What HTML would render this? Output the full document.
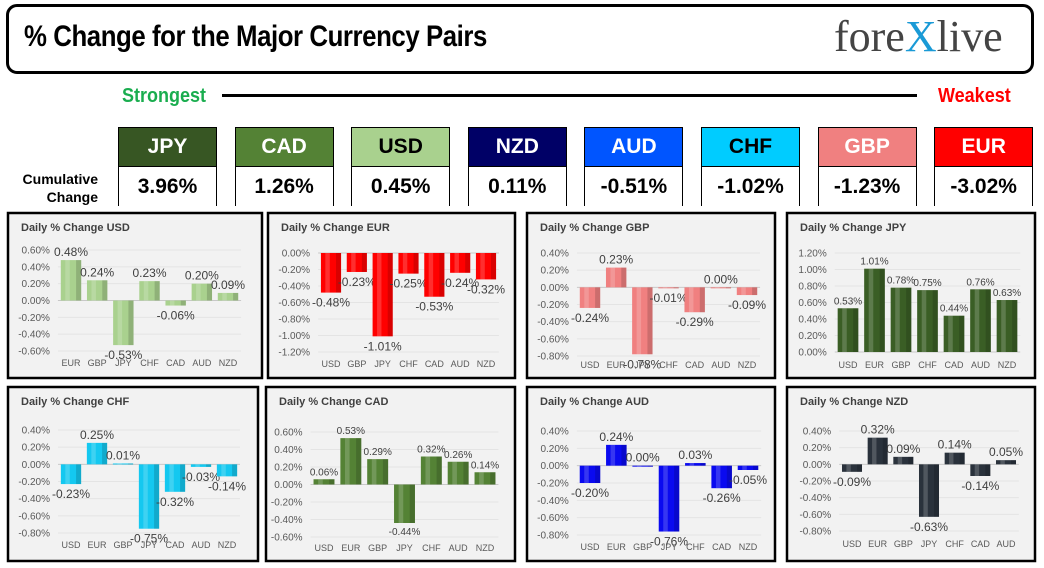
<!DOCTYPE html>
<html><head><meta charset="utf-8">
<style>
body{margin:0;width:1044px;height:568px;background:#fff;position:relative;overflow:hidden;font-family:"Liberation Sans",sans-serif}
.abs{position:absolute}
.imp{font-family:"Liberation Sans Narrow","Liberation Sans",sans-serif;font-weight:bold}
.box{position:absolute;width:99px;top:127px;height:79px;border:1px solid #000;box-sizing:border-box}
.box .h{height:38px;line-height:38px;text-align:center;font-size:21px;border-bottom:1px solid #000}
.box .v{height:40px;line-height:40px;text-align:center;font-size:21px;color:#000;background:#fff}
</style></head><body>
<div class="abs" style="left:6px;top:4px;width:1028px;height:70px;border:3px solid #000;border-radius:11px;box-sizing:border-box"></div>
<div class="abs imp" style="left:24px;top:20px;font-size:30px;letter-spacing:-0.5px;transform:scaleX(0.86);transform-origin:left;white-space:nowrap">% Change for the Major Currency Pairs</div>
<div class="abs" style="left:834px;top:11px;font-family:'Liberation Serif',serif;font-size:44px;color:#444">fore<span style="color:#1a9ad6">X</span>live</div>
<div class="abs imp" style="left:122px;top:85px;font-size:20px;color:#1aad4f;transform:scaleX(0.9);transform-origin:left">Strongest</div>
<div class="abs" style="left:222px;top:94px;width:695px;height:3px;background:#000"></div>
<div class="abs imp" style="left:938px;top:85px;font-size:20px;color:#ff0000;transform:scaleX(0.9);transform-origin:left">Weakest</div>
<div class="abs imp" style="right:946px;top:170px;font-size:14px;text-align:right;line-height:18px">Cumulative<br>Change</div>
<div id="boxes"></div>
<svg id="charts" width="1044" height="568" style="position:absolute;left:0;top:0"></svg>
<script>
const boxNames=["JPY","CAD","USD","NZD","AUD","CHF","GBP","EUR"];
const boxValues=["3.96%","1.26%","0.45%","0.11%","-0.51%","-1.02%","-1.23%","-3.02%"];
const boxBg=["#375623","#548235","#a9d18e","#000066","#0055ff","#00ccff","#f08080","#ff0000"];
const boxFg=["#fff","#fff","#000","#fff","#fff","#000","#fff","#fff"];
const bc=document.getElementById('boxes');
boxNames.forEach((n,i)=>{
  const d=document.createElement('div');
  d.className='box imp';
  
  
  d.style.left=(118+i*116.6)+'px';
  d.innerHTML='<div class="h" style="background:'+boxBg[i]+';color:'+boxFg[i]+'">'+n+'</div><div class="v">'+boxValues[i]+'</div>';
  bc.appendChild(d);
});

const usdCats=["EUR","GBP","JPY","CHF","CAD","AUD","NZD"];
const usdVals=[0.48,0.24,-0.53,0.23,-0.06,0.20,0.09];
const usdTicks=[0.6,0.4,0.2,0,-0.2,-0.4,-0.6];
const eurCats=["USD","GBP","JPY","CHF","CAD","AUD","NZD"];
const eurVals=[-0.48,-0.23,-1.01,-0.25,-0.53,-0.24,-0.32];
const eurTicks=[0,-0.2,-0.4,-0.6,-0.8,-1.0,-1.2];
const gbpCats=["USD","EUR","JPY","CHF","CAD","AUD","NZD"];
const gbpVals=[-0.24,0.23,-0.78,-0.01,-0.29,0.00,-0.09];
const gbpTicks=[0.4,0.2,0,-0.2,-0.4,-0.6,-0.8];
const jpyCats=["USD","EUR","GBP","CHF","CAD","AUD","NZD"];
const jpyVals=[0.53,1.01,0.78,0.75,0.44,0.76,0.63];
const jpyTicks=[1.2,1.0,0.8,0.6,0.4,0.2,0];
const chfCats=["USD","EUR","GBP","JPY","CAD","AUD","NZD"];
const chfVals=[-0.23,0.25,0.01,-0.75,-0.32,-0.03,-0.14];
const chfTicks=[0.4,0.2,0,-0.2,-0.4,-0.6,-0.8];
const cadCats=["USD","EUR","GBP","JPY","CHF","AUD","NZD"];
const cadVals=[0.06,0.53,0.29,-0.44,0.32,0.26,0.14];
const cadTicks=[0.6,0.4,0.2,0,-0.2,-0.4,-0.6];
const audCats=["USD","EUR","GBP","JPY","CHF","CAD","NZD"];
const audVals=[-0.20,0.24,0.00,-0.76,0.03,-0.26,-0.05];
const audTicks=[0.4,0.2,0,-0.2,-0.4,-0.6,-0.8];
const nzdCats=["USD","EUR","GBP","JPY","CHF","CAD","AUD"];
const nzdVals=[-0.09,0.32,0.09,-0.63,0.14,-0.14,0.05];
const nzdTicks=[0.4,0.2,0,-0.2,-0.4,-0.6,-0.8];

const panels=[
 {id:'usd',t:'USD',cats:usdCats,vals:usdVals,ticks:usdTicks,bx:8,by:213,bw:254,bh:165,c0:71,c6:228,yT:250,yB:351,cy:366,col:'#a9d18e',fs:12},
 {id:'eur',t:'EUR',cats:eurCats,vals:eurVals,ticks:eurTicks,bx:268,by:213,bw:247,bh:165,c0:331,c6:486,yT:253,yB:352,cy:367,col:'#ff0000',fs:12},
 {id:'gbp',t:'GBP',cats:gbpCats,vals:gbpVals,ticks:gbpTicks,bx:527,by:213,bw:248,bh:165,c0:590,c6:747,yT:253,yB:356,cy:368,col:'#f08080',fs:12},
 {id:'jpy',t:'JPY',cats:jpyCats,vals:jpyVals,ticks:jpyTicks,bx:787,by:213,bw:248,bh:165,c0:848,c6:1007,yT:253,yB:352,cy:368,col:'#3a5e25',fs:10},
 {id:'chf',t:'CHF',cats:chfCats,vals:chfVals,ticks:chfTicks,bx:8,by:387,bw:250,bh:174,c0:71,c6:227,yT:430,yB:533,cy:548,col:'#14c8f0',fs:12},
 {id:'cad',t:'CAD',cats:cadCats,vals:cadVals,ticks:cadTicks,bx:266,by:387,bw:249,bh:174,c0:324,c6:485,yT:432,yB:537,cy:551,col:'#548235',fs:10},
 {id:'aud',t:'AUD',cats:audCats,vals:audVals,ticks:audTicks,bx:527,by:387,bw:248,bh:174,c0:590,c6:748,yT:431,yB:535,cy:550,col:'#0a0af0',fs:12},
 {id:'nzd',t:'NZD',cats:nzdCats,vals:nzdVals,ticks:nzdTicks,bx:787,by:387,bw:248,bh:174,c0:852,c6:1006,yT:431,yB:531,cy:547,col:'#2a323c',fs:12}
];
const NS='http://www.w3.org/2000/svg';
const svg=document.getElementById('charts');
function mk(tag,attrs,parent){const e=document.createElementNS(NS,tag);for(const k in attrs)e.setAttribute(k,attrs[k]);(parent||svg).appendChild(e);return e;}
panels.forEach(p=>{
  const g=mk('g',{});
  
  
  const r=mk('rect',{x:p.bx,y:p.by,width:p.bw,height:p.bh,fill:'#f2f2f2',stroke:'#000','stroke-width':2.5},g);
  
  
  const tt=mk('text',{x:p.bx+13,y:p.by+18,'font-size':11,'font-weight':'bold',fill:'#404040'},g);
  tt.textContent='Daily % Change '+p.t;
  
  
  const n=p.cats.length, s=(p.c6-p.c0)/(n-1);
  const x0=p.c0-s/2, x1=p.c6+s/2;
  const tMax=p.ticks[0], tMin=p.ticks[p.ticks.length-1];
  const yS=v=>p.yT+(tMax-v)/(tMax-tMin)*(p.yB-p.yT);
  const xS=i=>p.c0+i*s;
  p.ticks.forEach(t=>{
    const y=yS(t);
    const l=mk('line',{x1:x0,x2:x1,y1:y,y2:y,stroke:Math.abs(t)<1e-9?'#c8c8c8':'#e4e4e4','stroke-width':1},g);
    
    
    const tx=mk('text',{x:x0-8,y:y+3.5,'font-size':10,'text-anchor':'end',fill:'#595959'},g);
    tx.textContent=t.toFixed(2)+'%';
    
    
  });
  const bw=s*0.78;
  p.vals.forEach((v,i)=>{
    const cx=xS(i), y0=yS(0), yv=yS(v);
    const top=Math.min(y0,yv), h=Math.max(Math.abs(yv-y0),1);
    const b=mk('rect',{x:cx-bw/2,y:top,width:bw,height:h,fill:p.col},g);
    
    
    const sh=mk('rect',{x:cx-bw*0.28,y:top,width:bw*0.22,height:h,fill:'#fff',opacity:0.18},g);
    
    
    const dk=mk('rect',{x:cx+bw*0.25,y:top,width:bw*0.25,height:h,fill:'#000',opacity:0.15},g);
    
    
    const ly=v>=0?yv-4:yv+p.fs+2;
    const lt=mk('text',{x:cx,y:ly,'font-size':p.fs,'text-anchor':'middle',fill:'#404040'},g);
    lt.textContent=v.toFixed(2)+'%';
    
    
    const ct=mk('text',{x:cx,y:p.cy,'font-size':9,'text-anchor':'middle',fill:'#595959'},g);
    ct.textContent=p.cats[i];
    
    
  });
});
</script>
</body></html>
